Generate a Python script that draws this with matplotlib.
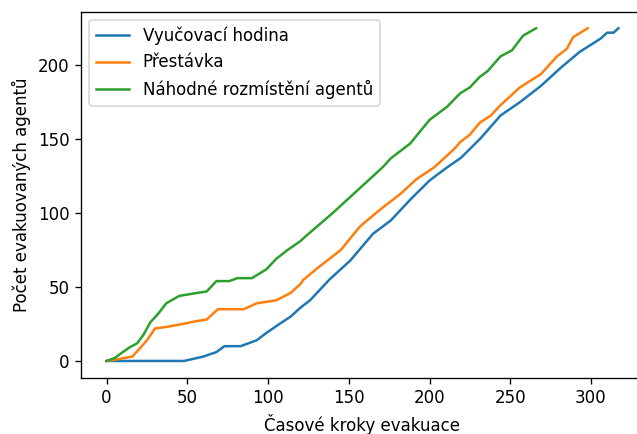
import matplotlib
matplotlib.use("Agg")
import matplotlib.pyplot as plt

# cumulative number of evacuated agents per time step
lesson_t = [0, 48, 60, 68, 73, 83, 93, 99, 107, 114, 120, 126, 138, 151, 165, 176,
            188, 200, 211, 219, 221, 232, 244, 256, 269, 281, 293, 306, 310, 314, 317]
lesson_n = [0, 0, 3, 6, 10, 10, 14, 19, 25, 30, 36, 41, 55, 68, 86, 95,
            109, 122, 131, 137, 139, 151, 166, 175, 186, 198, 209, 218, 222, 222, 225]

break_t = [0, 6, 16, 21, 25, 30, 37, 47, 56, 62, 69, 85, 93, 105, 114, 120, 122, 132,
           145, 157, 169, 182, 192, 203, 215, 219, 225, 231, 238, 244, 256, 269, 279,
           285, 289, 298]
break_n = [0, 1, 3, 9, 14, 22, 23, 25, 27, 28, 35, 35, 39, 41, 46, 52, 55, 64,
           75, 91, 102, 113, 123, 131, 143, 148, 153, 161, 166, 173, 185, 194, 206,
           211, 219, 225]

random_t = [0, 5, 10, 14, 19, 23, 27, 32, 37, 45, 56, 62, 68, 76, 81, 90, 99, 105, 112,
            120, 124, 140, 151, 159, 171, 176, 188, 200, 211, 219, 225, 231, 236, 244,
            251, 258, 266]
random_n = [0, 2, 6, 9, 12, 18, 26, 32, 39, 44, 46, 47, 54, 54, 56, 56, 62, 69, 75,
            81, 85, 100, 111, 119, 131, 137, 147, 163, 172, 181, 185, 192, 196, 206,
            210, 220, 225]

labels = ["Vyučovací hodina", "Přestávka", "Náhodné rozmístění agentů"]

dpi = 120
fig = plt.figure(figsize=(637 / dpi, 434 / dpi), dpi=dpi)
ax = fig.add_axes([81 / 637, 56.4 / 434, 563 / 637, 366 / 434])

ax.plot(lesson_t, lesson_n, label=labels[0])
ax.plot(break_t, break_n, label=labels[1])
ax.plot(random_t, random_n, label=labels[2])

ax.set_xlabel("Časové kroky evakuace")
ax.set_ylabel("Počet evakuovaných agentů")
ax.legend(loc="upper left")

fig.savefig("out.png", dpi=dpi)
